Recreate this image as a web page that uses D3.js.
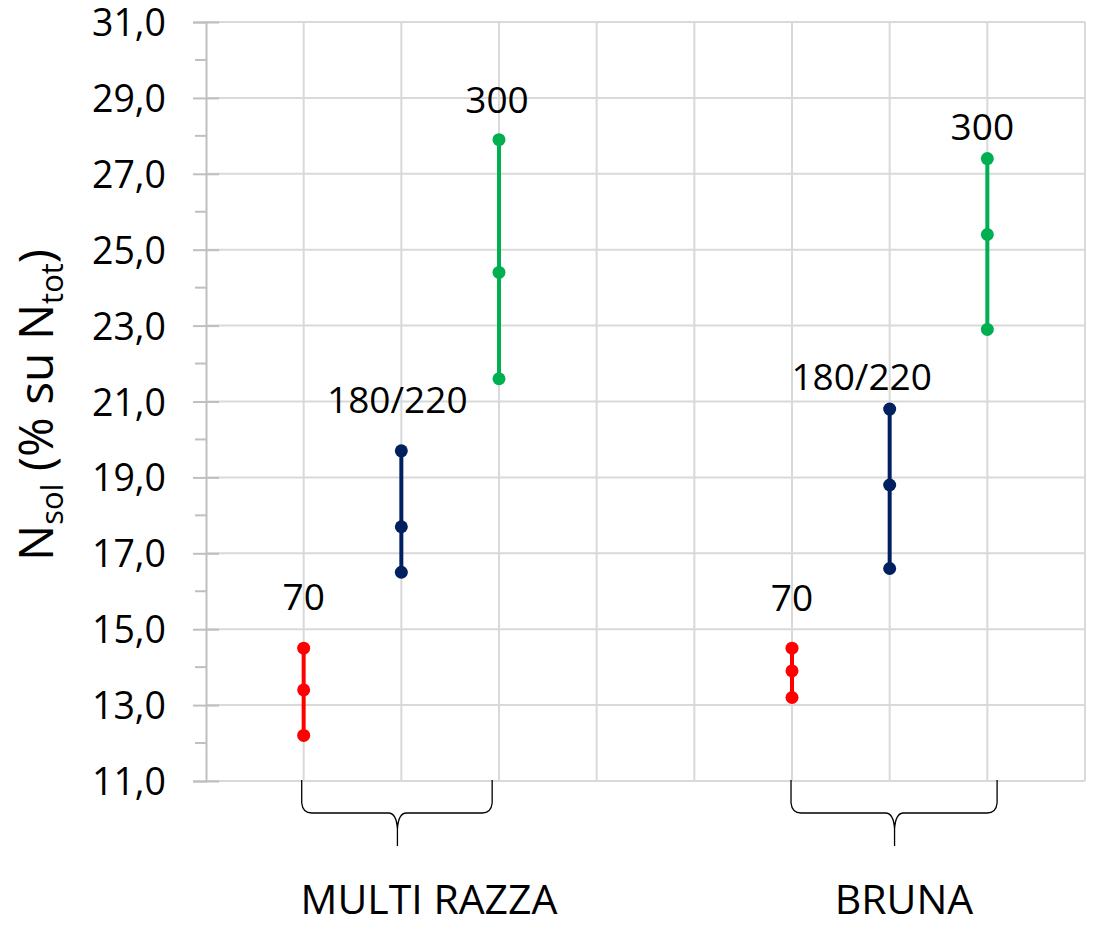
<!DOCTYPE html>
<html>
<head>
<meta charset="utf-8">
<script src="https://cdn.jsdelivr.net/npm/d3@7"></script>
<style>
  html, body { margin: 0; padding: 0; background: #fff; }
  svg { display: block; }
  text { font-family: "Open Sans", "Noto Sans", sans-serif; fill: #000; }
</style>
</head>
<body>
<svg id="chart" width="1097" height="927"></svg>
<script>
// ---- data ----
const groups = ["MULTI RAZZA", "BRUNA"];
const doseLabels = ["70", "180/220", "300", "70", "180/220", "300"];
const lowValues  = [12.2, 16.5, 21.6, 13.2, 16.6, 22.9];
const midValues  = [13.4, 17.7, 24.4, 13.9, 18.8, 25.4];
const highValues = [14.5, 19.7, 27.9, 14.5, 20.8, 27.4];
const yTicks = [11, 13, 15, 17, 19, 21, 23, 25, 27, 29, 31];

// ---- layout / style ----
const slotOf = [1, 2, 3, 6, 7, 8];            // category slot on the 9-slot axis
const doseColors = ["#ff0000", "#002060", "#00b050", "#ff0000", "#002060", "#00b050"];
const labelLift = [51, 51, 40, 50, 32, 32];    // px above top marker
const labelDx = [0, -4, -2, 0, -28, -5];
const braceSlots = [[0.98, 2.93, 1.96], [5.99, 8.1, 7.05]];
const groupLabelX = [429, 904];

const svg = d3.select("#chart");
const x = d3.scaleLinear().domain([0, 9]).range([206, 1085]);
const y = d3.scaleLinear().domain([11, 31]).range([781, 22]);

// gridlines horizontal
svg.append("g").selectAll("line").data(yTicks).join("line")
  .attr("x1", x(0)).attr("x2", x(9))
  .attr("y1", d => y(d)).attr("y2", d => y(d))
  .attr("stroke", "#d9d9d9").attr("stroke-width", 2);
// gridlines vertical
svg.append("g").selectAll("line").data(d3.range(1, 10)).join("line")
  .attr("x1", d => x(d)).attr("x2", d => x(d))
  .attr("y1", y(31)).attr("y2", y(11))
  .attr("stroke", "#d9d9d9").attr("stroke-width", 2);

// y axis
const yAxis = d3.axisLeft(y).tickValues(yTicks)
  .tickFormat(d => d3.format(".1f")(d).replace(".", ","))
  .tickSize(13).tickPadding(27);
const gy = svg.append("g").attr("transform", `translate(${x(0)},0)`).call(yAxis);
gy.select(".domain").attr("stroke", "#bfbfbf").attr("stroke-width", 2);
gy.selectAll(".tick line").attr("stroke", "#bfbfbf").attr("stroke-width", 2).attr("x2", -13).attr("x1", 13);
gy.selectAll(".tick text").attr("font-size", 37.5).attr("font-family", "Open Sans").attr("fill", "#000")
  .attr("dy", "0.36em");
// minor ticks
svg.append("g").selectAll("line").data(d3.range(12, 31, 2)).join("line")
  .attr("x1", x(0) - 11).attr("x2", x(0))
  .attr("y1", d => y(d)).attr("y2", d => y(d))
  .attr("stroke", "#bfbfbf").attr("stroke-width", 2);

// range bars
const idx = d3.range(lowValues.length);
svg.append("g").selectAll("line").data(idx).join("line")
  .attr("x1", i => x(slotOf[i])).attr("x2", i => x(slotOf[i]))
  .attr("y1", i => y(lowValues[i])).attr("y2", i => y(highValues[i]))
  .attr("stroke", i => doseColors[i]).attr("stroke-width", 4);
const pts = [];
idx.forEach(i => [lowValues[i], midValues[i], highValues[i]].forEach(v => pts.push({i, v})));
svg.append("g").selectAll("circle").data(pts).join("circle")
  .attr("cx", d => x(slotOf[d.i])).attr("cy", d => y(d.v)).attr("r", 6.5)
  .attr("fill", d => doseColors[d.i]);

// dose labels
svg.append("g").selectAll("text").data(idx).join("text")
  .attr("x", i => x(slotOf[i]) + labelDx[i])
  .attr("y", i => y(highValues[i]) - labelLift[i])
  .attr("dy", "0.36em")
  .attr("text-anchor", "middle").attr("font-size", 37)
  .text(i => doseLabels[i]);

// braces
const braceTop = 780, braceMid = 813, braceTip = 846;
groups.forEach((g, gi) => {
  const [a, b, c] = braceSlots[gi];
  const x1 = x(a), x2 = x(b), xc = x(c);
  const p = d3.path();
  p.moveTo(x1, braceTop);
  p.lineTo(x1, braceMid - 10);
  p.quadraticCurveTo(x1 + 1, braceMid, x1 + 10, braceMid);
  p.lineTo(xc - 9, braceMid);
  p.quadraticCurveTo(xc - 1, braceMid, xc, braceMid + 16);
  p.lineTo(xc, braceTip);
  p.moveTo(x2, braceTop);
  p.lineTo(x2, braceMid - 10);
  p.quadraticCurveTo(x2 - 1, braceMid, x2 - 10, braceMid);
  p.lineTo(xc + 9, braceMid);
  p.quadraticCurveTo(xc + 1, braceMid, xc, braceMid + 16);
  svg.append("path").attr("d", p.toString())
    .attr("fill", "none").attr("stroke", "#000").attr("stroke-width", 1.3);
});

// group labels
svg.append("g").selectAll("text").data(groups).join("text")
  .attr("x", (d, i) => groupLabelX[i]).attr("y", 914)
  .attr("text-anchor", "middle").attr("font-size", 41)
  .text(d => d);

// y title
const t = svg.append("text")
  .attr("transform", "translate(53,405) rotate(-90)")
  .attr("text-anchor", "middle").attr("font-size", 48);
t.append("tspan").text("N");
t.append("tspan").attr("font-size", 31).attr("dy", 10).text("sol");
t.append("tspan").attr("dy", -10).text(" (% su N");
t.append("tspan").attr("font-size", 31).attr("dy", 10).text("tot");
t.append("tspan").attr("dy", -10).text(")");
</script>
</body>
</html>
